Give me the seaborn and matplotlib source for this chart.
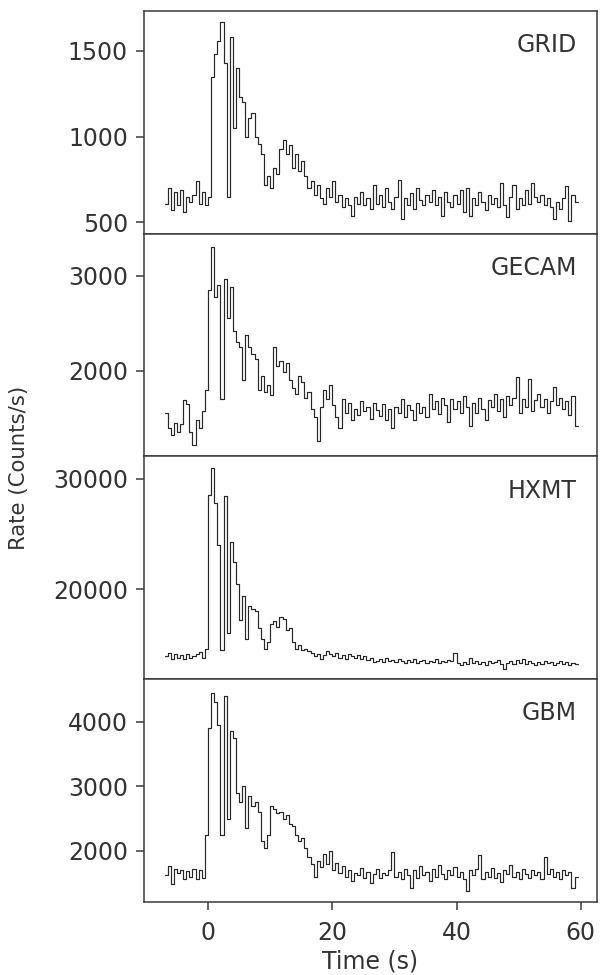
import numpy as np
import matplotlib
matplotlib.use('Agg')
import matplotlib.pyplot as plt
import seaborn as sns

# light curves, 0.5 s bins starting at t = -7 s
t_start = -7.0
bin_width = 0.5

grid_rate = [
    610, 700, 570, 680, 600, 690, 560, 650, 620, 660, 740, 610, 680, 600,
    650, 1350, 1480, 1560, 1670, 1430, 650, 1580, 1050, 1400,
    1230, 1200, 1000, 1110, 1140, 1000, 960, 900, 720, 770,
    700, 820, 780, 930, 980, 900, 950, 820, 900, 800,
    860, 770, 700, 740, 660, 720, 640, 610, 700, 650,
    740, 620, 660, 590, 640, 600, 540, 650, 610, 680,
    600, 640, 580, 720, 610, 660, 590, 700, 620, 580,
    650, 750, 520, 640, 600, 670, 580, 700, 630, 600,
    660, 620, 690, 600, 650, 540, 680, 620, 590, 660,
    610, 690, 560, 700, 540, 640, 600, 680, 620, 570,
    660, 610, 640, 590, 730, 600, 530, 650, 720, 580,
    640, 600, 690, 610, 730, 650, 620, 660, 600, 640,
    590, 520, 620, 580, 640, 710, 510, 660, 620,
]

gecam_rate = [
    1560, 1400, 1330, 1450, 1360, 1440, 1690, 1650, 1360, 1220, 1480, 1400, 1580, 1800,
    2850, 3300, 2780, 2900, 1700, 2960, 2550, 2880, 2420, 2300,
    2250, 1900, 2380, 2250, 2180, 2120, 1800, 1950, 1780, 1850,
    1750, 2250, 2050, 2100, 1990, 2080, 1900, 1820, 1760, 1950,
    1880, 1720, 1780, 1600, 1520, 1260, 1620, 1800, 1700, 1850,
    1640, 1520, 1400, 1700, 1560, 1660, 1480, 1600, 1540, 1680,
    1580, 1620, 1500, 1660, 1590, 1530, 1650, 1480, 1600, 1400,
    1620, 1560, 1700, 1520, 1640, 1590, 1480, 1660, 1560, 1620,
    1520, 1760, 1600, 1680, 1550, 1720, 1640, 1460, 1700, 1600,
    1680, 1560, 1740, 1620, 1420, 1660, 1560, 1720, 1600, 1480,
    1690, 1620, 1760, 1580, 1700, 1520, 1740, 1640, 1720, 1940,
    1560, 1700, 1620, 1920, 1580, 1690, 1760, 1620, 1700, 1560,
    1680, 1830, 1640, 1720, 1600, 1680, 1540, 1740, 1420,
]

hxmt_rate = [
    13900, 14200, 13700, 14100, 13800, 14000, 13700, 14100, 13800, 13900, 14100, 14300, 13800, 14600,
    28500, 31000, 27800, 24000, 14500, 28400, 16000, 24300, 22500, 20500,
    17200, 19400, 15500, 18500, 18200, 18000, 16500, 15500, 14600, 15200,
    16800, 17100, 16600, 17500, 17300, 16300, 16500, 15200, 14600, 14900,
    14500, 14600, 14400, 14200, 13900, 14100, 13700, 14000, 14400, 14100,
    13900, 14200, 13800, 14000, 13700, 14100, 13900, 13800, 14000, 13700,
    13900, 13600, 13800, 13400, 13500, 13700, 13400, 13800, 13500, 13600,
    13400, 13700, 13500, 13300, 13600, 13400, 13700, 13300, 13500, 13600,
    13300, 13500, 13400, 13700, 13300, 13500, 13400, 13600, 13500, 14200,
    13300, 13100, 13400, 13200, 13800, 13300, 13500, 13200, 13400, 13100,
    13500, 13300, 13400, 13600, 13200, 12750, 13300, 13500, 13200, 13600,
    13300, 13700, 13200, 13500, 13300, 13100, 13400, 13200, 13500, 13300,
    13400, 13100, 13300, 13500, 13200, 13400, 13100, 13300, 13200,
]

gbm_rate = [
    1620, 1760, 1480, 1720, 1650, 1700, 1560, 1690, 1600, 1720, 1560, 1700, 1580, 2250,
    3900, 4450, 4300, 3950, 2250, 4400, 2500, 3850, 3750, 2900,
    2750, 3000, 2350, 2850, 2700, 2750, 2600, 2150, 2050, 2250,
    2700, 2650, 2580, 2600, 2500, 2560, 2420, 2380, 2250, 2150,
    2200, 2050, 1900, 1800, 1600, 1850, 1750, 1950, 1800, 2000,
    1700, 1820, 1650, 1760, 1600, 1700, 1540, 1660, 1620, 1740,
    1580, 1680, 1500, 1640, 1720, 1580, 1660, 1620, 1700, 1990,
    1600, 1680, 1560, 1720, 1620, 1430, 1700, 1580, 1760, 1620,
    1680, 1540, 1720, 1600, 1780, 1640, 1560, 1700, 1620, 1750,
    1600, 1680, 1560, 1380, 1700, 1620, 1720, 1940, 1560, 1680,
    1600, 1740, 1580, 1660, 1520, 1700, 1640, 1780, 1600, 1680,
    1560, 1720, 1640, 1580, 1700, 1620, 1680, 1560, 1900, 1640,
    1720, 1600, 1680, 1560, 1700, 1620, 1680, 1430, 1600,
]

names = ['GRID', 'GECAM', 'HXMT', 'GBM']
rates = [grid_rate, gecam_rate, hxmt_rate, gbm_rate]
yticks = [[500, 1000, 1500], [2000, 3000], [20000, 30000], [2000, 3000, 4000]]
ylims = [(434, 1733), (1102, 3439), (11840, 32022), (1209, 4657)]
xticks = [0, 20, 40, 60]

sns.set_theme(style='ticks')
plt.rcParams['font.family'] = ['DejaVu Sans']
text_col = '#333333'
plt.rcParams.update({
    'axes.edgecolor': '#3a3a3a',
    'axes.linewidth': 1.1,
    'text.color': text_col,
    'axes.labelcolor': text_col,
    'xtick.color': '#3a3a3a',
    'ytick.color': '#3a3a3a',
    'xtick.labelcolor': text_col,
    'ytick.labelcolor': text_col,
})

fig, axes = plt.subplots(4, 1, figsize=(6.01, 9.75), dpi=100, sharex=True)
fig.subplots_adjust(left=0.2396, right=0.9933, top=0.9887, bottom=0.0749, hspace=0)

for ax, name, rate, yt, yl in zip(axes, names, rates, yticks, ylims):
    rate = np.asarray(rate, dtype=float)
    edges = t_start + bin_width * np.arange(len(rate) + 1)
    yy = np.append(rate, rate[-1])
    sns.lineplot(x=edges, y=yy, ax=ax, drawstyle='steps-post', estimator=None,
                 color='#262626', linewidth=0.85)
    ax.set_ylim(*yl)
    ax.set_yticks(yt)
    ax.set_yticklabels([str(v) for v in yt])
    ax.set_ylabel('')
    ax.tick_params(axis='y', labelsize=17, length=6, width=1.1, pad=5.5)
    ax.text(0.956, 0.815, name, transform=ax.transAxes, ha='right', va='baseline',
            fontsize=17, color=text_col)
    for s in ax.spines.values():
        s.set_visible(True)

axes[-1].set_xlim(-10.3, 62.6)
axes[-1].set_xticks(xticks)
axes[-1].set_xticklabels([str(v) for v in xticks])
for ax in axes[:-1]:
    ax.tick_params(axis='x', length=0, labelbottom=False)
axes[-1].tick_params(axis='x', labelsize=17, length=6, width=1.1, pad=7.5)
axes[-1].set_xlabel('Time (s)', fontsize=17, labelpad=3.5)

fig.text(19 / 601, 1 - 468 / 975, 'Rate (Counts/s)', rotation=90, ha='center', va='center',
         fontsize=15.3, color=text_col)

fig.savefig('out.png', dpi=100)
